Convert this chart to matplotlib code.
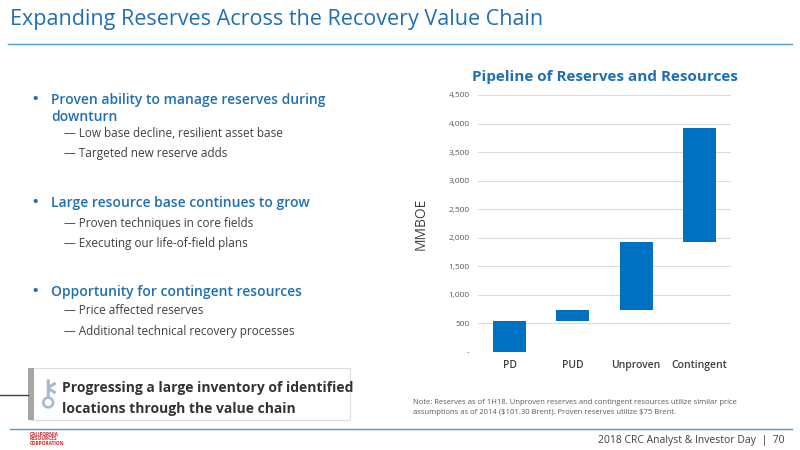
import matplotlib
matplotlib.use("Agg")
import matplotlib.pyplot as plt
from matplotlib.patches import Rectangle

categories = ["PD", "PUD", "Unproven", "Contingent"]
bottoms = [0, 540, 730, 1930]
heights = [540, 190, 1200, 2000]
yticks = [0, 500, 1000, 1500, 2000, 2500, 3000, 3500, 4000, 4500]
ytick_labels = ["-", "500", "1,000", "1,500", "2,000", "2,500", "3,000", "3,500", "4,000", "4,500"]

plt.rcParams['font.family'] = ['Open Sans', 'DejaVu Sans']
fig = plt.figure(figsize=(8, 4.5), dpi=100)
W, H = 800, 450
def fx(x): return x / W
def fy(y): return 1 - y / H

blue = "#0070C0"
fig.text(fx(10), fy(20), "Expanding Reserves Across the Recovery Value Chain", fontsize=15.5, color="#1F6FB5", va="center")
fig.add_artist(plt.Line2D([fx(8), fx(792)], [fy(44), fy(44)], color="#4A9AD4", lw=1))

bul = [(100, "Proven ability to manage reserves during", True), (117, "downturn", True),
       (134, "— Low base decline, resilient asset base", False), (154, "— Targeted new reserve adds", False),
       (203, "Large resource base continues to grow", True), (223, "— Proven techniques in core fields", False),
       (243, "— Executing our life-of-field plans", False),
       (292, "Opportunity for contingent resources", True), (311, "— Price affected reserves", False),
       (331, "— Additional technical recovery processes", False)]
for y, t, b in bul:
    if b:
        if t != "downturn":
            fig.text(fx(31), fy(y), "•", fontsize=14, color="#1F6FB5", va="center")
        fig.text(fx(51), fy(y), t, fontsize=10, color="#1F6FB5", va="center", weight="semibold")
    else:
        fig.text(fx(64), fy(y), t, fontsize=8.5, color="#404040", va="center")

fig.add_artist(Rectangle((fx(30), fy(420)), fx(320), 52 / H, facecolor="white", edgecolor="#DDDDDD", lw=0.8))
fig.add_artist(Rectangle((fx(28), fy(420)), fx(6), 52 / H, facecolor="#A6A6A6", edgecolor="none"))
fig.add_artist(plt.Line2D([fx(0), fx(28)], [fy(395), fy(395)], color="#404040", lw=1))
fig.text(fx(48), fy(396), "⚷", fontsize=26, color="#A8B8CF", va="center", ha="center")
fig.text(fx(62), fy(388), "Progressing a large inventory of identified", fontsize=10, weight="bold", color="#333333", va="center")
fig.text(fx(62), fy(409), "locations through the value chain", fontsize=10, weight="bold", color="#333333", va="center")
fig.add_artist(plt.Line2D([fx(10), fx(792)], [fy(429), fy(429)], color="#4A9AD4", lw=1))
fig.text(fx(30), fy(439), "CALIFORNIA\nRESOURCES\nCORPORATION", fontsize=3.5, color="#D8232A", va="center", weight="bold", linespacing=0.9)
fig.text(fx(785), fy(441), "2018 CRC Analyst & Investor Day  |  70", fontsize=7.5, color="#404040", va="center", ha="right")

fig.text(fx(413), fy(407), "Note: Reserves as of 1H18. Unproven reserves and contingent resources utilize similar price\nassumptions as of 2014 (\\$101.30 Brent). Proven reserves utilize \\$75 Brent.",
         fontsize=5.5, color="#595959", va="center", linespacing=1.6)

ax = fig.add_axes([fx(478), fy(352), fx(731) - fx(478), (352 - 95) / H])
x = range(len(categories))
ax.bar(x, heights, bottom=bottoms, width=0.52, color=blue)
ax.set_ylim(0, 4500)
ax.set_xlim(-0.5, 3.5)
ax.set_yticks(yticks)
ax.set_yticklabels(ytick_labels, fontsize=6, color="#595959")
ax.set_xticks(list(x))
ax.set_xticklabels(categories, fontsize=7.5, color="#404040", weight="semibold")
ax.yaxis.grid(True, color="#D9D9D9", lw=0.7)
ax.set_axisbelow(True)
for s in ax.spines.values():
    s.set_visible(False)
ax.tick_params(length=0, pad=6)
ax.set_ylabel("MMBOE", fontsize=10, color="#404040", labelpad=14)
ax.set_title("Pipeline of Reserves and Resources", fontsize=11, weight="bold", color="#1F6FB5", pad=10)

fig.savefig("out.png", dpi=100)
